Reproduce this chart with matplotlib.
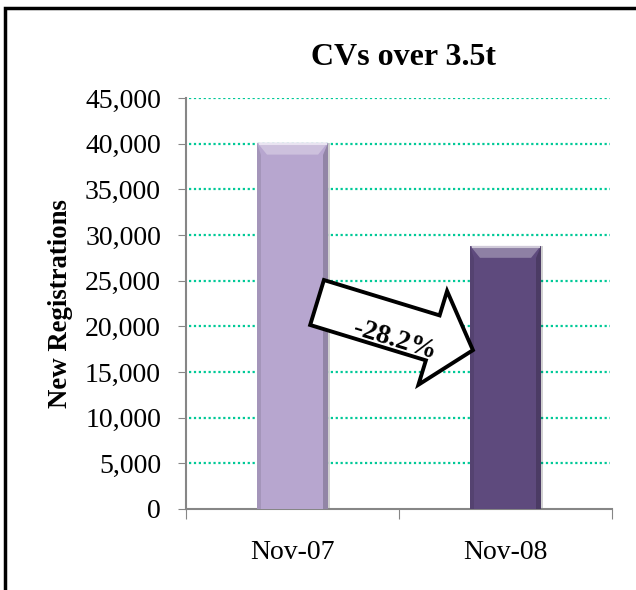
import numpy as np
import matplotlib
matplotlib.use("Agg")
from matplotlib import pyplot as plt
from matplotlib.patches import Polygon, Rectangle
from matplotlib.transforms import Affine2D, ScaledTranslation

# data
categories = ["Nov-07", "Nov-08"]
registrations = [40100, 28800]
bar_colors = ["#B7A6CF", "#5E4A7D"]
change_label = "-28.2%"
y_ticks = [0, 5000, 10000, 15000, 20000, 25000, 30000, 35000, 40000, 45000]

plt.rcParams['font.family'] = ['Liberation Serif', 'DejaVu Serif']

fig = plt.figure(figsize=(6.36, 5.9), dpi=100)
ax = fig.add_axes([0.2925, 0.1373, 0.6698, 0.6966])

x = np.arange(len(categories))
w = 0.33
# soft shadow behind the bars
ax.bar(x + 0.012, registrations, width=w, color="#000000", alpha=0.18, zorder=2)
bars = ax.bar(x, registrations, width=w, color=bar_colors, edgecolor="none", zorder=3)

# simple bevel on top / sides of each bar
for xi, v, c in zip(x, registrations, bar_colors):
    base = np.array(matplotlib.colors.to_rgb(c))
    light = base + (1 - base) * 0.3
    lighter = base + (1 - base) * 0.7
    dark = base * 0.8
    bw = 0.045
    bh = 1300
    ax.add_patch(Polygon([(xi - w/2, v), (xi + w/2, v), (xi + w/2 - bw, v - bh), (xi - w/2 + bw, v - bh)],
                         closed=True, facecolor=light, edgecolor="none", zorder=4))
    ax.plot([xi - w/2 + 0.01, xi + w/2 - 0.01], [v - 150, v - 150], color=lighter, linewidth=1.5, zorder=5)
    ax.add_patch(Polygon([(xi + w/2, v), (xi + w/2, 0), (xi + w/2 - 0.02, 0), (xi + w/2 - 0.02, v - bh)],
                         closed=True, facecolor=dark, edgecolor="none", zorder=4))
    ax.add_patch(Polygon([(xi - w/2, v), (xi - w/2, 0), (xi - w/2 + 0.015, 0), (xi - w/2 + 0.015, v - bh)],
                         closed=True, facecolor=dark, edgecolor="none", alpha=0.5, zorder=4))

ax.set_xlim(-0.5, 1.5)
ax.set_ylim(0, 45000)
ax.set_yticks(y_ticks)
ax.set_yticklabels([f"{t:,}" for t in y_ticks], fontsize=20)
ax.set_xticks([-0.5, 0.5, 1.5], minor=False)
ax.set_xticklabels([])
ax.set_xticks(x, minor=True)
ax.set_xticklabels(categories, minor=True, fontsize=20)
ax.tick_params(axis='x', which='minor', length=0, pad=22)
ax.tick_params(axis='x', which='major', length=7, color="#868686", direction='out')
ax.tick_params(axis='y', length=6, color="#868686", pad=12)

for t in y_ticks[1:]:
    ax.plot([-0.485, 1.49], [t, t], linestyle=(0, (1, 1.2)), color="#00C997", linewidth=1.6, zorder=1)

ax.spines['top'].set_visible(False)
ax.spines['right'].set_visible(False)
ax.spines['left'].set_color("#868686")
ax.spines['bottom'].set_color("#868686")
ax.spines['left'].set_linewidth(1.5)
ax.spines['bottom'].set_linewidth(1.5)

ax.set_ylabel("New Registrations", fontsize=19.3, fontweight='bold', labelpad=9)
fig.text(0.635, 0.903, "CVs over 3.5t", fontsize=23, fontweight='bold', ha='center', va='center')

# block arrow showing the drop
shape = [(-81.5, 23.5), (39.5, 23.5), (39.5, 49), (81.5, 0), (39.5, -49), (39.5, -23.5), (-81.5, -23.5)]
tr = Affine2D().rotate_deg(-17) + ScaledTranslation(0.481, 20000, ax.transData)
ax.add_patch(Polygon(shape, closed=True, facecolor="white", edgecolor="black", linewidth=2.8,
                     transform=tr, zorder=6, clip_on=False))
ax.text(0.48, 18500, change_label, fontsize=20, fontweight='bold',
        rotation=-17, ha='center', va='center', zorder=7, rotation_mode='anchor')

# outer frame
fig.patches.append(Rectangle((5/636, -0.1), 1.2, 1 - 8/590 + 0.1, transform=fig.transFigure,
                             fill=False, edgecolor="black", linewidth=2.5, figure=fig))

fig.savefig("out.png", dpi=100)
